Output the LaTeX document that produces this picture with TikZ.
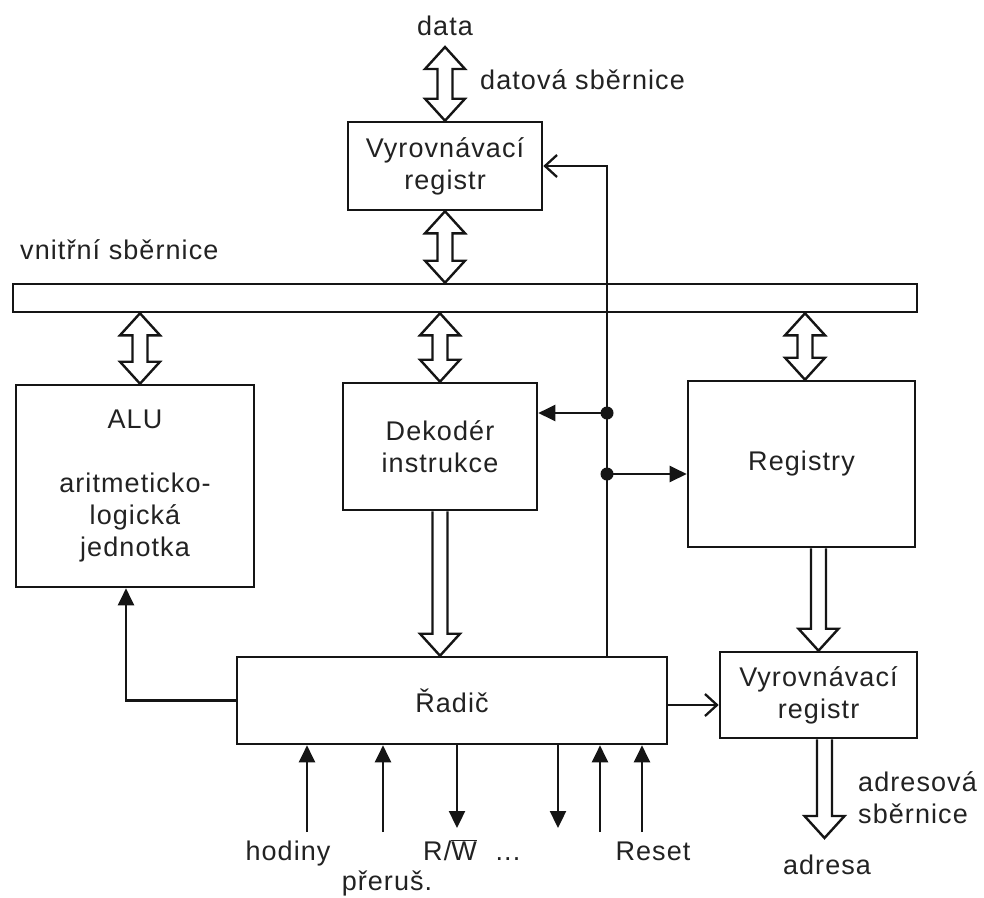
\documentclass[tikz,border=0pt]{standalone}
\usepackage{fontspec}
\setmainfont{Liberation Sans}[LetterSpace=4]
\usetikzlibrary{arrows.meta,calc}
\definecolor{ink}{HTML}{151515}
\definecolor{txt}{HTML}{222222}
\newcommand{\dbus}[2]{\draw[busline] let \p1=#1, \p2=#2 in
 (\x1,\y1) -- (\x1+20pt,\y1-22pt) -- (\x1+7.5pt,\y1-22pt) -- (\x1+7.5pt,\y2+22pt) -- (\x1+20pt,\y2+22pt) -- (\x1,\y2) -- (\x1-20pt,\y2+22pt) -- (\x1-7.5pt,\y2+22pt) -- (\x1-7.5pt,\y1-22pt) -- (\x1-20pt,\y1-22pt) -- cycle;}
\newcommand{\sbus}[2]{\draw[busline] let \p1=#1, \p2=#2 in
 (\x1-7.5pt,\y1) -- (\x1-7.5pt,\y2+22pt) -- (\x1-20pt,\y2+22pt) -- (\x1,\y2) -- (\x1+20pt,\y2+22pt) -- (\x1+7.5pt,\y2+22pt) -- (\x1+7.5pt,\y1);}
\begin{document}
\begin{tikzpicture}[x=1pt,y=-1pt,
  font=\fontsize{27}{32}\selectfont,
  box/.style={draw=ink,line width=2.6pt,rectangle,inner sep=0pt,align=center,text=txt},
  busline/.style={draw=ink,line width=2.4pt,fill=white,line join=miter},
  wire/.style={draw=ink,line width=2.3pt},
  tri/.style={-{Triangle[length=17pt,width=16pt]}},
  barb/.style={-{Straight Barb[length=12pt,width=22pt,line width=2.3pt]}},
  lbl/.style={text=txt,inner sep=0pt,text height=19pt,text depth=5pt}]
\useasboundingbox (0,0) rectangle (984,897);
\fill[white] (0,0) rectangle (984,897);

% boxes
\node[box,minimum width=194pt,minimum height=88pt] (topreg) at (445,166) {Vyrovnávací\\registr};
\node[box,minimum width=904pt,minimum height=28pt] (bus) at (465,298) {};
\node[box,minimum width=238pt,minimum height=202pt] (alu) at (135,486) {ALU\\[32pt]aritmeticko-\\logická\\jednotka};
\node[box,minimum width=194pt,minimum height=127pt] (dek) at (440,446.5) {Dekodér\\instrukce};
\node[box,minimum width=227pt,minimum height=166pt] (reg) at (801.5,464) {Registry};
\node[box,minimum width=430pt,minimum height=87pt] (radic) at (452,700.5) {Řadič};
\node[box,minimum width=197pt,minimum height=86pt] (adrreg) at (818.5,695) {Vyrovnávací\\registr};

% labels
\node[lbl] (data) at (445,28) {data};
\node[lbl,anchor=west] (dsb) at (480,82) {datová sběrnice};
\node[lbl,anchor=west] (vsb) at (20,252) {vnitřní sběrnice};
\node[text=txt,inner sep=0pt,anchor=west,align=left] (asb) at (858,798) {adresová\\sběrnice};
\node[lbl] (adresa) at (827,867) {adresa};
\node[lbl] (hod) at (288,853) {hodiny};
\node[lbl] (prer) at (387,883) {přeruš.};
\node[lbl] (rw) at (450,853) {R/$\overline{\hbox{W}}$};
\node[lbl] (dots) at (508,853) {...};
\node[lbl] (rst) at (653,853) {Reset};

% hollow bus arrows
\coordinate (dtop) at (445,47);
\dbus{(dtop)}{(topreg.north)}
\dbus{(topreg.south)}{(bus.north -| topreg.south)}
\coordinate (aluc) at ($(alu.north)+(5,0)$);
\dbus{(aluc |- bus.south)}{(aluc)}
\dbus{(dek.north |- bus.south)}{(dek.north)}
\coordinate (regc) at ($(reg.north)+(3.5,0)$);
\dbus{(regc |- bus.south)}{(regc)}
\sbus{(dek.south)}{(dek.south |- radic.north)}
\sbus{(adrreg.north |- reg.south)}{(adrreg.north)}
\coordinate (ac) at ($(adrreg.south)+(6,0)$);
\coordinate (atip) at (824.5,838);
\sbus{(ac)}{(atip)}

% control wires
\coordinate (d1) at (607,413);
\coordinate (d2) at (607,474);
\draw[wire,barb] (radic.north -| d1) |- (topreg.east);
\draw[wire,tri] (d1) -- (d1 -| dek.east);
\draw[wire,tri] (d2) -- (d2 -| reg.west);
\fill[ink] (d1) circle (6.5pt);
\fill[ink] (d2) circle (6.5pt);
\draw[wire,tri] (radic.west) -| ([xshift=-9pt]alu.south);
\coordinate (ra) at ($(radic.east)+(0,4.5)$);
\draw[wire,barb] (ra) -- (ra -| adrreg.west);

% bottom signals
\coordinate (s1) at (307,832);
\coordinate (s2) at (383,832);
\coordinate (s3) at (457,828);
\coordinate (s4) at (558,828);
\coordinate (s5) at (600,832);
\coordinate (s6) at (642,832);
\draw[wire,tri] (s1) -- (s1 |- radic.south);
\draw[wire,tri] (s2) -- (s2 |- radic.south);
\draw[wire,tri] (s3 |- radic.south) -- (s3);
\draw[wire,tri] (s4 |- radic.south) -- (s4);
\draw[wire,tri] (s5) -- (s5 |- radic.south);
\draw[wire,tri] (s6) -- (s6 |- radic.south);
\end{tikzpicture}
\end{document}
